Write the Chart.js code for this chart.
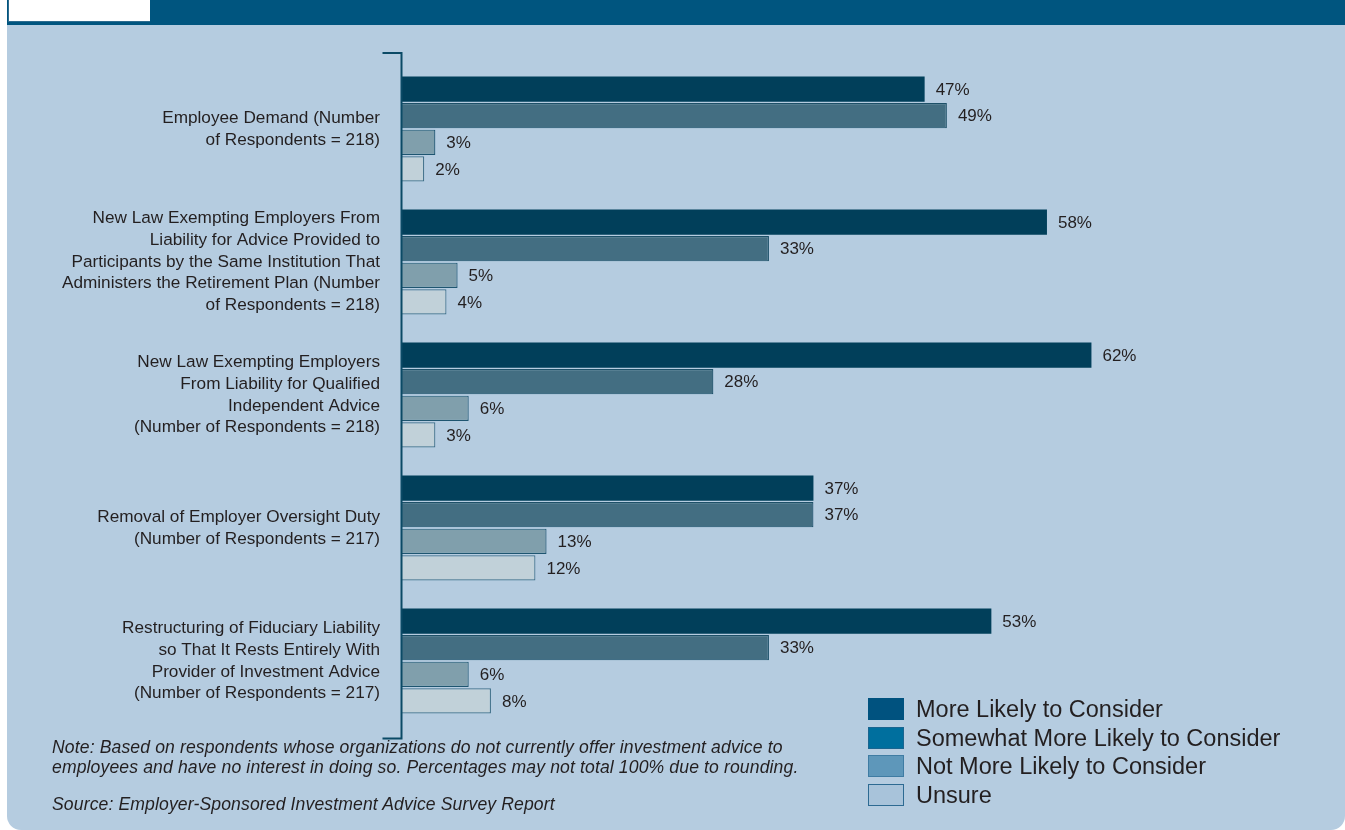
<!DOCTYPE html>
<html>
<head>
<meta charset="utf-8">
<script src="https://cdn.jsdelivr.net/npm/chart.js@4.4.1/dist/chart.umd.min.js"></script>
<style>
  html, body { margin: 0; padding: 0; background: #fff; }
  body { width: 1345px; height: 830px; position: relative; overflow: hidden; font-family: "Liberation Sans", Arial, sans-serif; color: #231F20; }
  .panel { position: absolute; left: 7px; top: 0; width: 1338px; height: 830px; background: #B5CCE0; border-radius: 0 0 14px 14px; }
  .band { position: absolute; left: 7px; top: 0; width: 1338px; height: 25px; background: #00557F; }
  .fig-box { position: absolute; left: 8px; top: 0; width: 142px; height: 22px; background: #fff; border-left: 1px solid #2E6B8E; border-bottom: 1px solid #2E6B8E; box-sizing: border-box; }
  #chart { position: absolute; left: 0; top: 0; }
  .legend { position: absolute; left: 868px; top: 698px; }
  .legend-row { height: 28.7px; display: flex; align-items: flex-start; }
  .swatch { width: 36px; height: 22px; box-sizing: border-box; border: 1px solid transparent; margin-right: 12px; }
  .legend-row span { font-size: 23.5px; line-height: 22px; }
  .note, .source { position: absolute; left: 52px; font-style: italic; font-size: 17.6px; letter-spacing: 0.12px; line-height: 20px; }
  .note { top: 737px; }
  .source { top: 794px; }
</style>
</head>
<body>
<div class="panel"></div>
<div class="band"></div>
<div class="fig-box"></div>
<canvas id="chart" width="1345" height="830"></canvas>
<div class="legend" id="legend"></div>
<div class="note">Note: Based on respondents whose organizations do not currently offer investment advice to<br>employees and have no interest in doing so. Percentages may not total 100% due to rounding.</div>
<div class="source">Source: Employer-Sponsored Investment Advice Survey Report</div>

<script>
// factors and responses
const categories = [
    ['Employee Demand (Number', 'of Respondents = 218)'],
    ['New Law Exempting Employers From', 'Liability for Advice Provided to', 'Participants by the Same Institution That', 'Administers the Retirement Plan (Number', 'of Respondents = 218)'],
    ['New Law Exempting Employers', 'From Liability for Qualified', 'Independent Advice', '(Number of Respondents = 218)'],
    ['Removal of Employer Oversight Duty', '(Number of Respondents = 217)'],
    ['Restructuring of Fiduciary Liability', 'so That It Rests Entirely With', 'Provider of Investment Advice', '(Number of Respondents = 217)']
];
const seriesNames = ['More Likely to Consider', 'Somewhat More Likely to Consider', 'Not More Likely to Consider', 'Unsure'];
const moreLikely     = [47, 58, 62, 37, 53];
const somewhatLikely = [49, 33, 28, 37, 33];
const notMoreLikely  = [3, 5, 6, 13, 6];
const unsure         = [2, 4, 3, 12, 8];

// bar colours vs. key colours (the key uses brighter swatches)
const barFill     = ['#013F5A', '#436E82', '#809FAC', '#C1D1D9'];
const barBorder   = ['#013F5A', '#1D5068', '#1E5570', '#3F6F88'];
const keyFill     = ['#00527F', '#006F9E', '#5E97BA', '#A8C3DA'];
const keyBorder   = ['#00527F', '#1A6590', '#3F7CA3', '#2D6A92'];

const LABEL_FONT = '"Liberation Sans", Arial, sans-serif';
const TEXT_COLOR = '#231F20';
const AXIS_COLOR = '#0B4A66';

// value labels at bar ends
const valueLabels = {
    id: 'valueLabels',
    afterDatasetsDraw(chart) {
        const ctx = chart.ctx;
        ctx.save();
        ctx.font = '17px ' + LABEL_FONT;
        ctx.fillStyle = TEXT_COLOR;
        ctx.textBaseline = 'middle';
        ctx.textAlign = 'left';
        chart.data.datasets.forEach((ds, i) => {
            chart.getDatasetMeta(i).data.forEach((bar, j) => {
                ctx.fillText(ds.data[j] + '%', bar.x + 11, bar.y + 1);
            });
        });
        ctx.restore();
    }
};

// vertical axis bracket with short end caps
const axisBracket = {
    id: 'axisBracket',
    afterDraw(chart) {
        const { ctx, chartArea } = chart;
        const x = chartArea.left - 0.5;
        const top = chartArea.top - 9.5;
        const bottom = chartArea.bottom + 11;
        ctx.save();
        ctx.strokeStyle = AXIS_COLOR;
        ctx.lineWidth = 2;
        ctx.beginPath();
        ctx.moveTo(x - 19, top);
        ctx.lineTo(x, top);
        ctx.lineTo(x, bottom);
        ctx.lineTo(x - 19, bottom);
        ctx.stroke();
        ctx.restore();
    }
};

const seriesData = [moreLikely, somewhatLikely, notMoreLikely, unsure];

new Chart(document.getElementById('chart'), {
    type: 'bar',
    data: {
        labels: categories,
        datasets: seriesData.map((d, i) => ({
            label: seriesNames[i],
            data: d,
            backgroundColor: barFill[i],
            borderColor: barBorder[i],
            borderWidth: i === 0 ? 0 : 1.2,
            categoryPercentage: 0.8,
            barPercentage: 0.95
        }))
    },
    options: {
        indexAxis: 'y',
        responsive: false,
        animation: false,
        devicePixelRatio: 1,
        layout: { padding: { left: 0, right: 53.4, top: 62.5, bottom: 102.5 } },
        plugins: { legend: { display: false }, tooltip: { enabled: false } },
        scales: {
            x: { display: false, min: 0, max: 80 },
            y: {
                grid: { display: false },
                border: { display: false },
                ticks: {
                    color: TEXT_COLOR,
                    padding: 14,
                    font: { family: LABEL_FONT, size: 17.2, lineHeight: 1.26 }
                },
                afterFit(scale) { scale.width = 402; }
            }
        }
    },
    plugins: [valueLabels, axisBracket]
});

// key
const legendEl = document.getElementById('legend');
seriesNames.forEach((name, i) => {
    const row = document.createElement('div');
    row.className = 'legend-row';
    row.innerHTML = `<div class="swatch" style="background:${keyFill[i]};border-color:${keyBorder[i]}"></div><span>${name}</span>`;
    legendEl.appendChild(row);
});
</script>
</body>
</html>
